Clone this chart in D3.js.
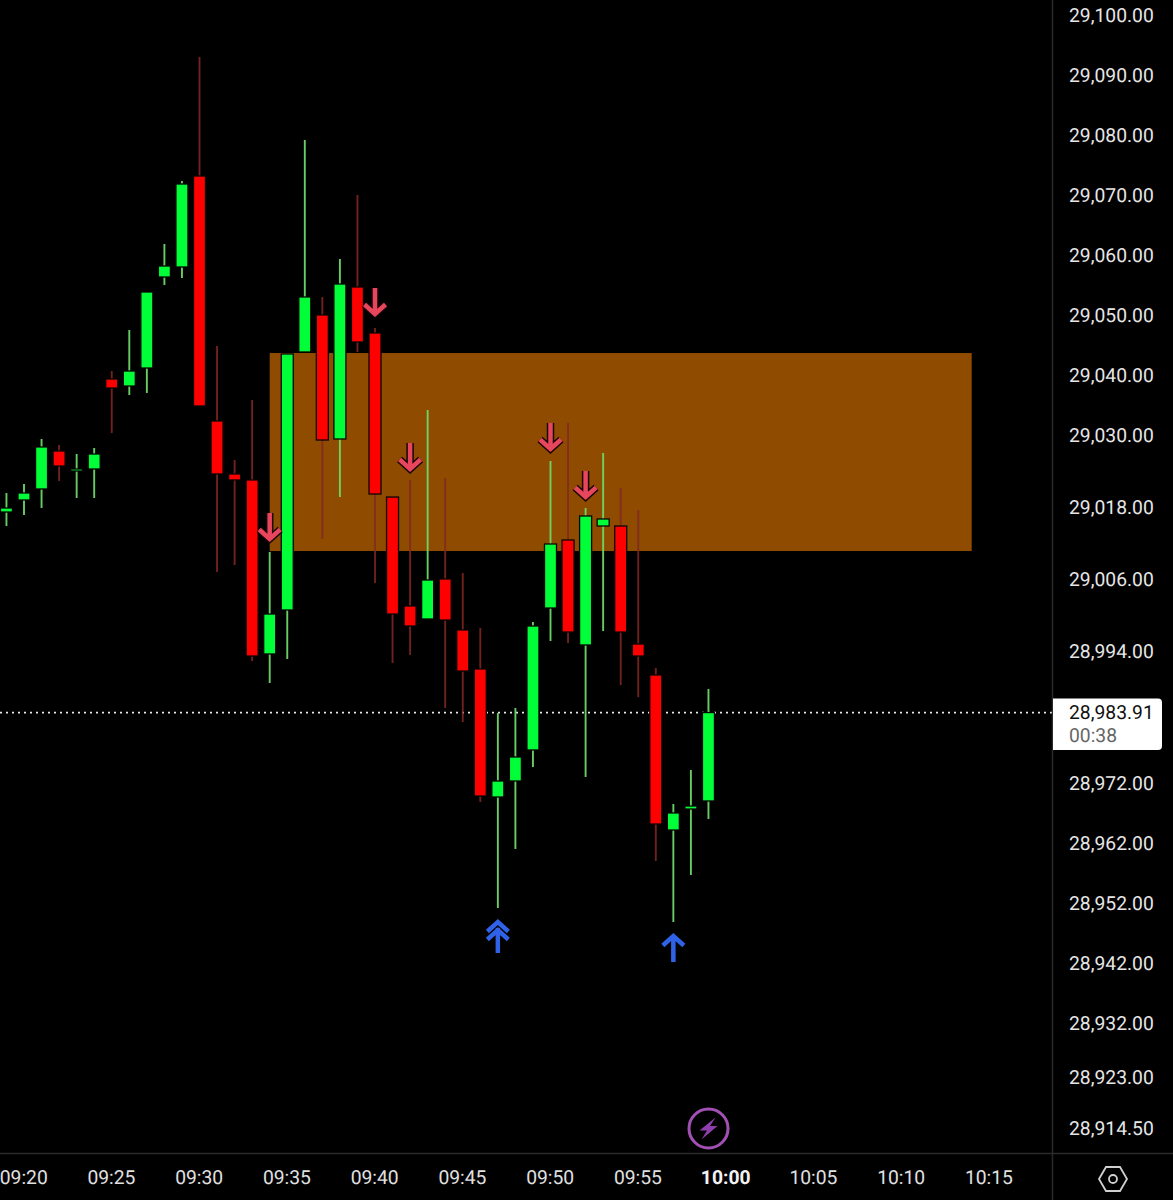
<!DOCTYPE html>
<html>
<head>
<meta charset="UTF-8">
<title>Candles 1m</title>
<script src="https://d3js.org/d3.v7.min.js"></script>
<style>
    html, body { margin: 0; padding: 0; background: #000; overflow: hidden; }
    svg { display: block; }
    text { font-family: Roboto, sans-serif; font-size: 19.3px; fill: #e6e6e6; dominant-baseline: central; text-rendering: geometricPrecision; }
</style>
</head>
<body>
<svg id="chart" width="1173" height="1200"></svg>
<script>
// candles, one per minute from 09:19 on
const firstMinute = "09:19";
const opens  = [29017.33,29019.33,29021.17,29027.5,29024.17,29024.5,29039.5,29038.33,29041.33,29056.5,29058.17,29073.33,29032.5,29023.67,29022.67,28993.67,29001,29044,29050.17,29029.5,29054.83,29047.17,29019.83,29001.67,28999.5,29006.17,28997.67,28991.17,28969.83,28972.5,28977.67,29001.33,29012.67,28995.17,29015,29015,28995.33,28990.17,28964.33,28967.83,28969.17];
const highs  = [29020.5,29022,29029.5,29028.5,29027,29028,29040.83,29047.67,29054,29062,29072.5,29093.17,29045,29026,29036,29010.67,29043.67,29079.33,29053.17,29059.5,29070.17,29048,29019.83,29022.67,29034.33,29023,29007.17,28998,28983.83,28984.67,28999,29025.83,29032.17,29018,29027.17,29021.33,29017.67,28991.33,28968.67,28974.33,28987.83];
const lows   = [29015,29016.83,29018,29022.5,29019.67,29019.67,29030.5,29036.83,29037.17,29055.17,29056.33,29035,29007.33,29008.5,28992.5,28988.83,28992.83,29044,29012.83,29019.83,29044,29005.5,28992.17,28993.5,28999.5,28984.67,28982.33,28969,28951.33,28961.17,28974.83,28995.83,28995.5,28973.17,28997.5,28988.5,28986.5,28959.17,28949,28956.83,28966.17];
const closes = [29018,29020.5,29028.17,29025,29024.5,29027,29038,29040.83,29054,29058.33,29072,29035,29023.67,29022.67,28993.33,29000.33,29043.67,29053.17,29029.33,29055.33,29045.67,29020.33,29000.33,28998.33,29006,28999.33,28990.83,28970,28972.5,28976.5,28998.33,29012,28997.33,29016.67,29016.17,28997.33,28993.33,28965.33,28967.17,28968.33,28983.91];

const priceTicks = [29100,29090,29080,29070,29060,29050,29040,29030,29018,29006,28994,28972,28962,28952,28942,28932,28923,28914.5];
const timeTicks = ["09:20","09:25","09:30","09:35","09:40","09:45","09:50","09:55","10:00","10:05","10:10","10:15"];
const boldTime = "10:00";

const lastPrice = 28983.91;
const countdown = "00:38";

// supply zone
const zoneTimes = ["09:34","10:14"];
const zonePrices = [29043.83,29010.83];

// signal arrows, price is where the tip sits
const sellTimes  = ["09:34","09:40","09:42","09:50","09:52"];
const sellPrices = [29012.17,29049.67,29023.83,29027.17,29019.17];
const buyTimes   = ["09:47","09:57"];
const buyPrices  = [28949.67,28947.33];
const buyDouble  = [true,false];

const toMinutes = s => { const p = s.split(":"); return +p[0] * 60 + +p[1]; };
const fmtPrice = d3.format(",.2f");

const axisX = 1052.5, axisY = 1153.5, bodyWidth = 12;
const GREEN = "#00ff38", RED = "#ff0000";

const svg = d3.select("#chart");
svg.append("rect").attr("width", 1173).attr("height", 1200).attr("fill", "#000");

const x = d3.scaleLinear().domain([toMinutes("09:30"), toMinutes("10:00")]).range([199.5, 726]);
const y = d3.scaleLinear().domain([29100, 28914.5]).range([16, 1129]);

// zone
svg.append("rect")
    .attr("x", x(toMinutes(zoneTimes[0])))
    .attr("y", y(zonePrices[0]))
    .attr("width", x(toMinutes(zoneTimes[1])) - x(toMinutes(zoneTimes[0])))
    .attr("height", y(zonePrices[1]) - y(zonePrices[0]))
    .attr("fill", "#8f4c00");

// last price dotted line
svg.append("line")
    .attr("x1", 0).attr("x2", axisX)
    .attr("y1", y(lastPrice)).attr("y2", y(lastPrice))
    .attr("stroke", "#e8e8e8").attr("stroke-width", 1.8).attr("stroke-dasharray", "2 4");

const candles = opens.map((o, i) => ({
    t: toMinutes(firstMinute) + i, o: o, h: highs[i], l: lows[i], c: closes[i], up: closes[i] >= o
}));

const g = svg.append("g");
g.selectAll("line.wick").data(candles).enter().append("line")
    .attr("class", "wick")
    .attr("x1", d => x(d.t)).attr("x2", d => x(d.t))
    .attr("y1", d => y(d.h)).attr("y2", d => y(d.l))
    .attr("stroke", d => d.up ? "rgba(110,215,105,0.95)" : "rgba(130,40,35,0.85)")
    .attr("stroke-width", 1.9);
g.selectAll("rect.body").data(candles).enter().append("rect")
    .attr("class", "body")
    .attr("x", d => x(d.t) - bodyWidth / 2)
    .attr("width", bodyWidth)
    .attr("y", d => y(Math.max(d.o, d.c)))
    .attr("height", d => Math.max(2, Math.abs(y(d.o) - y(d.c))))
    .attr("fill", d => d.up ? GREEN : RED)
    .attr("stroke", "#0a0505").attr("stroke-width", 1.3);

// arrows
function arrowPath(dir, double) {
    // dir 1 = points down, -1 = up, tip at 0,0
    const s = dir;
    let p = `M0,${-s * 30}L0,${-s * 5}M${-10.5},${-s * 13.5}L0,${-s * 4}L10.5,${-s * 13.5}`;
    if (double) p = `M0,${-s * 35}L0,${-s * 10}M${-10.5},${-s * 21.5}L0,${-s * 12}L10.5,${-s * 21.5}M${-10.5},${-s * 13.5}L0,${-s * 4}L10.5,${-s * 13.5}`;
    return p;
}
const sells = sellTimes.map((t, i) => ({ t: toMinutes(t), p: sellPrices[i] }));
const sellG = svg.selectAll("g.sell").data(sells).enter().append("g")
    .attr("class", "sell")
    .attr("transform", d => `translate(${x(d.t)},${y(d.p)})`);
sellG.append("path").attr("d", arrowPath(1, false))
    .attr("fill", "none").attr("stroke", "#1a0508").attr("stroke-width", 7.5);
sellG.append("path").attr("d", arrowPath(1, false))
    .attr("fill", "none").attr("stroke", "#e8465c").attr("stroke-width", 4.5);

const buys = buyTimes.map((t, i) => ({ t: toMinutes(t), p: buyPrices[i], dbl: buyDouble[i] }));
svg.selectAll("path.buy").data(buys).enter().append("path")
    .attr("class", "buy")
    .attr("transform", d => `translate(${x(d.t)},${y(d.p)})`)
    .attr("d", d => arrowPath(-1, d.dbl))
    .attr("fill", "none").attr("stroke", "#2f62e6").attr("stroke-width", 4.5);

// axis frame
svg.append("line").attr("x1", axisX).attr("x2", axisX).attr("y1", 0).attr("y2", 1200)
    .attr("stroke", "#2b2b2b").attr("stroke-width", 1.5);
svg.append("line").attr("x1", 0).attr("x2", 1173).attr("y1", axisY).attr("y2", axisY)
    .attr("stroke", "#2b2b2b").attr("stroke-width", 1.5);

// price labels
svg.selectAll("text.price").data(priceTicks).enter().append("text")
    .attr("class", "price")
    .attr("x", 1069).attr("y", d => y(d) - 0.2)
    .text(d => fmtPrice(d));

// last price tag
svg.append("path")
    .attr("d", `M${axisX + 0.5},${y(lastPrice) - 14}H1158a4,4 0 0 1 4,4V746a4,4 0 0 1 -4,4H${axisX + 0.5}Z`)
    .attr("fill", "#fff");
svg.append("text").attr("x", 1069).attr("y", y(lastPrice) - 0.2).style("fill", "#111").text(fmtPrice(lastPrice));
svg.append("text").attr("x", 1069).attr("y", y(lastPrice) + 22.8).style("fill", "#666").text(countdown);

// time labels
svg.selectAll("text.time").data(timeTicks).enter().append("text")
    .attr("class", "time")
    .attr("x", d => x(toMinutes(d)) - 0.3)
    .attr("y", 1177.8)
    .attr("text-anchor", "middle")
    .style("font-weight", d => d === boldTime ? 700 : 400)
    .style("fill", d => d === boldTime ? "#f2f2f2" : "#e0e0e0")
    .text(d => d);

// lightning button
const bolt = svg.append("g").attr("transform", "translate(708.5,1128.5)");
bolt.append("circle").attr("r", 19.5).attr("fill", "none").attr("stroke", "#a350b5").attr("stroke-width", 3);
bolt.append("path").attr("d", "M7,-11L-9,2H-1.5L-7,11L9,-2.5H1.5Z").attr("fill", "#8e3fae");

// settings hexagon
const hex = svg.append("g").attr("transform", "translate(1113,1179)");
hex.append("path").attr("d", "M-14,0L-7,-12H7L14,0L7,12H-7Z")
    .attr("fill", "none").attr("stroke", "#d0d0d0").attr("stroke-width", 1.8);
hex.append("circle").attr("r", 4).attr("fill", "none").attr("stroke", "#d0d0d0").attr("stroke-width", 1.8);
</script>
</body>
</html>
